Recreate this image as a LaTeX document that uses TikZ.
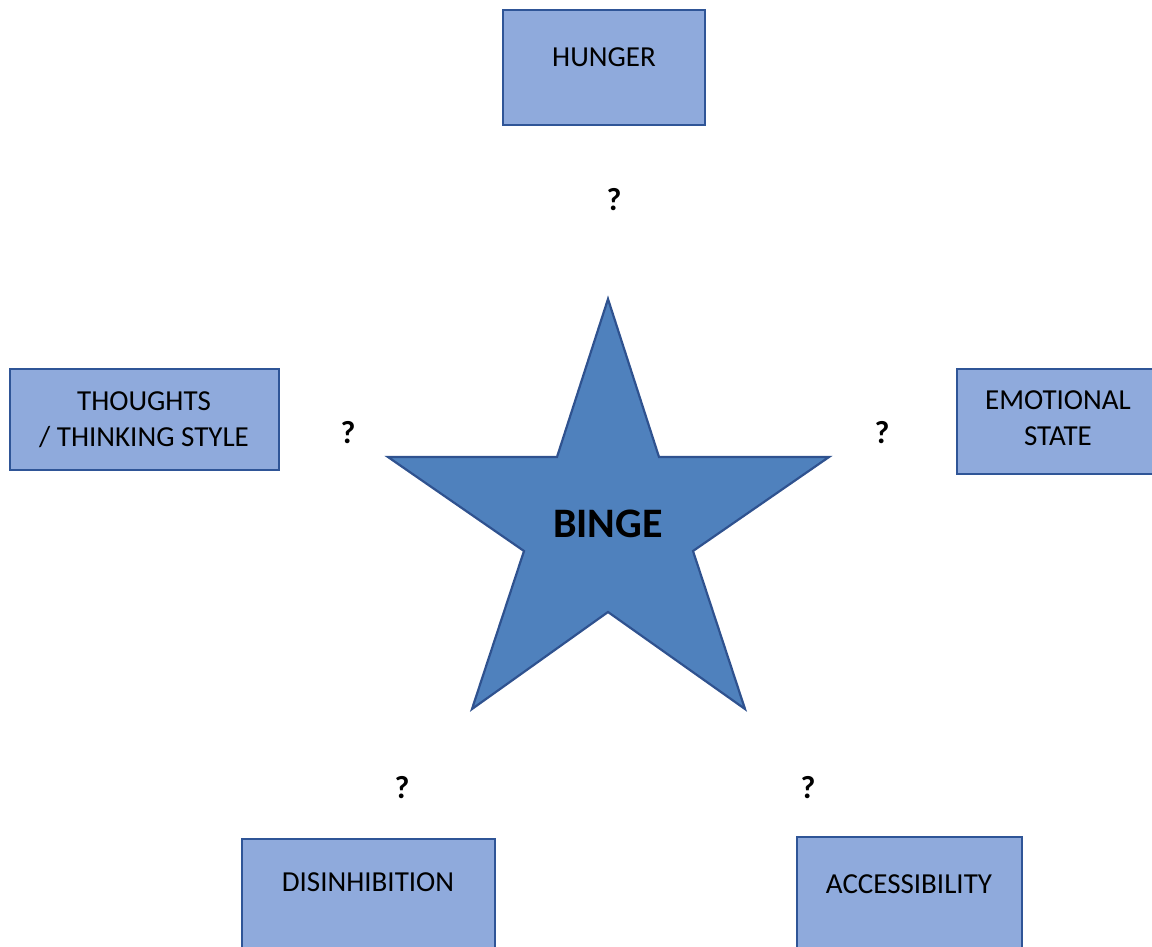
\documentclass[tikz,border=0pt]{standalone}
\usepackage{fontspec}
\setmainfont{Carlito}
\definecolor{boxfill}{HTML}{8FAADC}
\definecolor{boxline}{HTML}{2F5597}
\definecolor{starfill}{HTML}{4F81BD}
\definecolor{starline}{HTML}{2F528F}
\tikzset{
  factor/.style={draw=boxline, fill=boxfill, line width=2.2pt},
  lbl/.style={font=\fontsize{29}{36}\selectfont, align=center, inner sep=0pt, text=black},
  qm/.style={font=\fontsize{32}{34}\selectfont\bfseries, inner sep=0pt},
}
\begin{document}
\begin{tikzpicture}[x=1pt,y=-1pt]
\useasboundingbox (0,0) rectangle (1152,946);
\clip (0,0) rectangle (1152,946);
% boxes
\draw[factor] (503,10) rectangle (705,125);
\draw[factor] (10,369) rectangle (279,470);
\draw[factor] (957,369) rectangle (1170,474);
\draw[factor] (242,839) rectangle (495,960);
\draw[factor] (797,837) rectangle (1022,960);
\node[lbl] (hunger) at (604,57) {HUNGER};
\node[lbl] (thoughts) at (144,420) {THOUGHTS\\/ THINKING STYLE};
\node[lbl] (emotional) at (1058,418) {EMOTIONAL\\STATE};
\node[lbl] (disinhibition) at (368,882) {DISINHIBITION};
\node[lbl] (accessibility) at (909,884) {ACCESSIBILITY};
% star
\coordinate (s1) at (608,299);
\coordinate (s2) at (659,457);
\coordinate (s3) at (829,457);
\coordinate (s4) at (693,551);
\coordinate (s5) at (745,709);
\coordinate (s6) at (608,612);
\coordinate (s7) at (472,709);
\coordinate (s8) at (524,551);
\coordinate (s9) at (388,457);
\coordinate (s10) at (557,457);
\draw[fill=starfill, draw=starline, line width=2.2pt, line join=miter]
  (s1) -- (s2) -- (s3) -- (s4) -- (s5) -- (s6) -- (s7) -- (s8) -- (s9) -- (s10) -- cycle;
\node[font=\fontsize{42}{46}\selectfont\bfseries, inner sep=0pt] (binge) at (608,524) {BINGE};
% question marks
\node[qm] (q1) at (614,200) {?};
\node[qm] (q2) at (348,433) {?};
\node[qm] (q3) at (882,433) {?};
\node[qm] (q4) at (402,788) {?};
\node[qm] (q5) at (808,788) {?};
\end{tikzpicture}
\end{document}
